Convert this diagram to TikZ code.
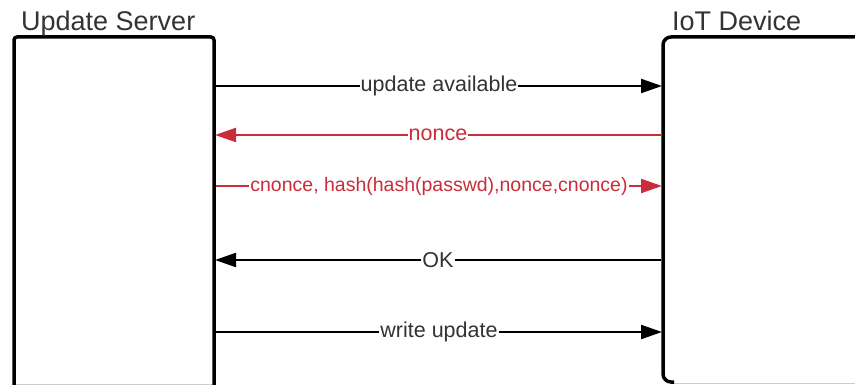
\documentclass[tikz,border=0pt]{standalone}
\usepackage{fontspec}
\setmainfont{Liberation Sans}
\usetikzlibrary{arrows.meta}
\definecolor{msgred}{HTML}{C92D39}
\definecolor{txtgray}{HTML}{333333}
\tikzset{
  lane/.style={line width=3.5pt, line join=round},
  msg/.style={line width=2.2pt, -{Triangle[length=21pt,width=14pt]}},
  lbl/.style={fill=white, text=txtgray, inner xsep=1pt, inner ysep=2pt,
    font=\fontsize{21.5}{24}\selectfont},
  ttl/.style={anchor=base west, text=txtgray, inner sep=0pt,
    font=\fontsize{27}{30}\selectfont},
}
\begin{document}
\begin{tikzpicture}[x=1pt, y=-1pt]
  \useasboundingbox (0,0) rectangle (855,385);
  \draw[gray!40, line width=1pt] (14,384) -- (214,384);
  \draw[gray!40, line width=1pt] (672,383.5) -- (855,383.5);
  \draw[lane, rounded corners=3pt] (14,386) -- (14,37) -- (214,37) -- (214,386);
  \draw[lane, rounded corners=8pt] (870,37) -- (663,37) -- (663,382) -- (674,382);
  \node[ttl] (srv) at (21,31) {Update Server};
  \node[ttl] (dev) at (672,31) {IoT Device};
  \coordinate (s1) at (216,86);  \coordinate (d1) at (662,86);
  \coordinate (s2) at (215,135); \coordinate (d2) at (661,135);
  \coordinate (s3) at (216,186); \coordinate (d3) at (662,186);
  \coordinate (s4) at (215,260); \coordinate (d4) at (661,260);
  \coordinate (s5) at (216,332); \coordinate (d5) at (662,332);
  \draw[msg] (s1) -- node[lbl] {update available} (d1);
  \draw[msg, msgred] (d2) -- node[lbl, text=msgred] {nonce} (s2);
  \draw[msg, msgred] (s3) -- node[lbl, text=msgred, font=\fontsize{19.5}{22}\selectfont]
        {cnonce, hash(hash(passwd),nonce,cnonce)} (d3);
  \draw[msg] (d4) -- node[lbl] {OK} (s4);
  \draw[msg] (s5) -- node[lbl] {write update} (d5);
\end{tikzpicture}
\end{document}
